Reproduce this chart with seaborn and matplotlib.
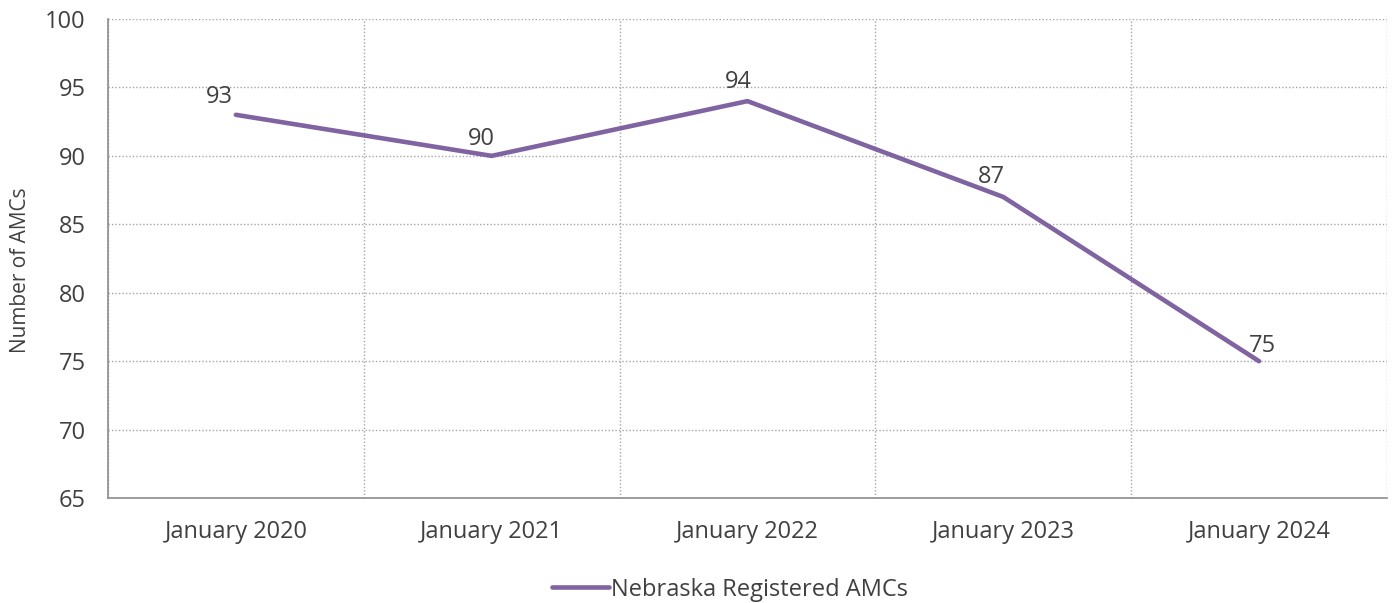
import matplotlib
matplotlib.use("Agg")
import matplotlib.pyplot as plt
import seaborn as sns
import pandas as pd
import numpy as np

# 数据
categories = ["January 2020", "January 2021", "January 2022", "January 2023", "January 2024"]
values = [93, 90, 94, 87, 75]
series_name = "Nebraska Registered AMCs"

LINE_COLOR = "#8064A2"
GRID_COLOR = "#A6A6A6"
TEXT_COLOR = "#404040"
FONT_SIZE = 17

sns.set_theme(style="white")
plt.rcParams['font.family'] = ['Open Sans', 'DejaVu Sans']

df = pd.DataFrame({"x": np.arange(len(categories)), "value": values, "series": series_name})

fig = plt.figure(figsize=(13.97, 6.03), dpi=100)
ax = fig.add_axes([0.0773, 0.174, 0.9155, 0.7945])

sns.lineplot(data=df, x="x", y="value", hue="series", palette=[LINE_COLOR],
             linewidth=3.3, ax=ax, solid_capstyle="round", legend=False)

# 数据标签 (水平微调, 像素)
label_dx = [-17, -10, -9, -12, 3]
label_dy = [12, 11, 13, 14, 9]
for i, v in enumerate(values):
    ax.annotate(str(v), (i, v), xytext=(label_dx[i] * 0.72, label_dy[i] * 0.72),
                textcoords="offset points", ha="center", va="baseline",
                fontsize=FONT_SIZE, color=TEXT_COLOR)

ax.set_xlim(-0.5, len(categories) - 0.5)
ax.set_ylim(65, 100)
ax.set_yticks(range(65, 101, 5))
ax.set_xticks(range(len(categories)))
ax.set_xticklabels(categories)
ax.set_xticks(np.arange(-0.5, len(categories), 1), minor=True)

ax.grid(False)
ax.yaxis.grid(True, color=GRID_COLOR, linestyle=(0, (1, 1.5)), linewidth=1)
ax.xaxis.grid(True, which="minor", color=GRID_COLOR, linestyle=(0, (1, 1.5)), linewidth=1)
ax.set_axisbelow(True)

for s in ["top", "right"]:
    ax.spines[s].set_visible(False)
for s in ["left", "bottom"]:
    ax.spines[s].set_color("#8C8C8C")
    ax.spines[s].set_linewidth(1.2)

ax.tick_params(axis="both", which="both", length=0, labelsize=FONT_SIZE, colors=TEXT_COLOR)
ax.tick_params(axis="x", pad=16)
ax.tick_params(axis="y", pad=16)

ax.set_xlabel("")
ax.set_ylabel("Number of AMCs", fontsize=15, color=TEXT_COLOR)
ax.yaxis.set_label_coords(-0.060, 0.476)

handle = plt.Line2D([], [], color=LINE_COLOR, linewidth=3.3, solid_capstyle="round")
fig.legend([handle], [series_name], loc="center", bbox_to_anchor=(0.5226, 0.022),
           frameon=False, fontsize=FONT_SIZE, handlelength=2.4, handletextpad=0.1,
           labelcolor=TEXT_COLOR)

fig.savefig("out.png", dpi=100)
